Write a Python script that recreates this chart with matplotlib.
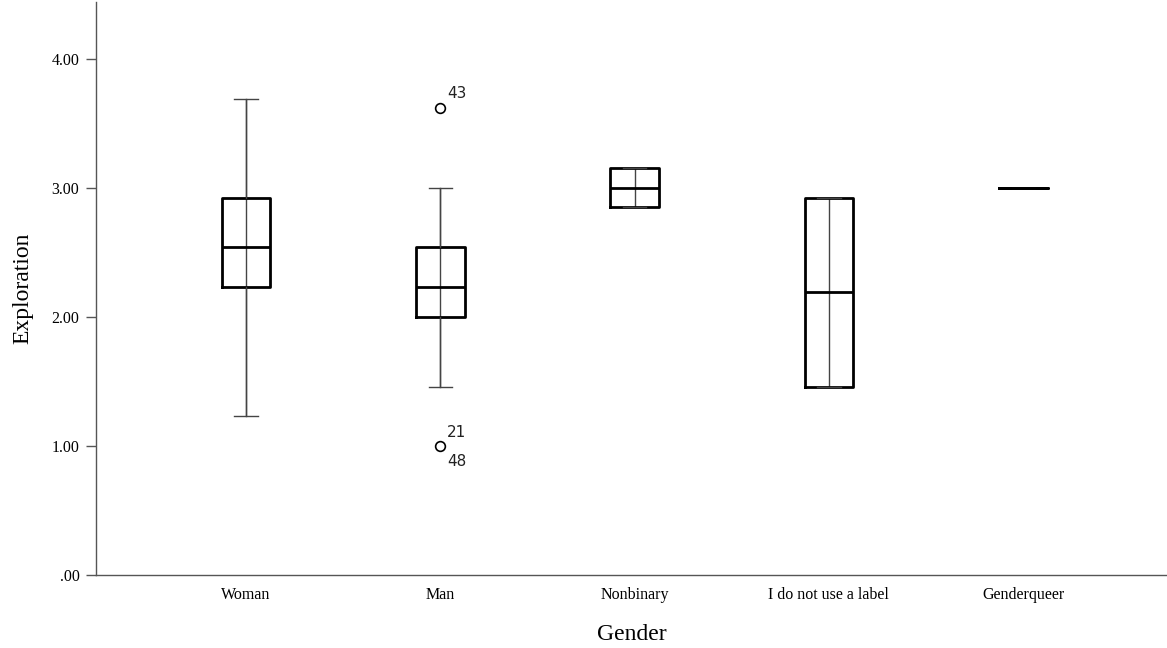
import numpy as np
import matplotlib.pyplot as plt

groups = ['Woman', 'Man', 'Nonbinary', 'I do not use a label', 'Genderqueer']
whislo = [1.23, 1.46, 2.85, 1.46, 3.00]
q1 = [2.23, 2.00, 2.85, 1.46, 3.00]
med = [2.54, 2.23, 3.00, 2.19, 3.00]
q3 = [2.92, 2.54, 3.15, 2.92, 3.00]
whishi = [3.69, 3.00, 3.15, 2.92, 3.00]

# outliers: (group index, value, case label)
out_group = [1, 1, 1]
out_value = [3.62, 1.00, 1.00]
out_case = ['43', '21', '48']

serif = 'Liberation Serif'

stats = []
for i in range(len(groups)):
    fl = [v for g, v in zip(out_group, out_value) if g == i]
    stats.append(dict(whislo=whislo[i], q1=q1[i], med=med[i], q3=q3[i],
                      whishi=whishi[i], fliers=np.unique(fl)))

fig = plt.figure(figsize=(11.67, 6.48), dpi=100)
ax = fig.add_axes([0.0823, 0.1127, 0.9177, 0.8843])

pos = np.arange(len(groups))
# thin stem through the whole box, SPSS style
ax.vlines(pos, whislo, whishi, color='#444444', lw=1.0, zorder=1)
ax.bxp(stats, positions=pos, widths=0.25, showfliers=True,
       boxprops=dict(color='black', lw=2.0),
       medianprops=dict(color='black', lw=2.0),
       whiskerprops=dict(color='#444444', lw=1.0),
       capprops=dict(color='#444444', lw=1.0),
       capwidths=0.12,
       flierprops=dict(marker='o', markersize=7, markerfacecolor='none',
                       markeredgecolor='black', markeredgewidth=1.2),
       zorder=2)

# case numbers next to outliers
seen = {}
for g, v, c in zip(out_group, out_value, out_case):
    k = seen.get((g, v), 0)
    seen[(g, v)] = k + 1
    dy = 10 if k == 0 else -11
    ax.annotate(c, (g, v), xytext=(5, dy), textcoords='offset points',
                fontsize=11, color='#222222', family='DejaVu Sans',
                va='center', ha='left')

ax.set_xlim(-0.772, 4.74)
ax.set_ylim(0, 4.44)
ax.set_yticks([0, 1, 2, 3, 4])
ax.set_yticklabels(['.00', '1.00', '2.00', '3.00', '4.00'])
ax.set_xticks(pos)
ax.set_xticklabels(groups)

for s in ['top', 'right']:
    ax.spines[s].set_visible(False)
for s in ['left', 'bottom']:
    ax.spines[s].set_color('#555555')
    ax.spines[s].set_linewidth(1.0)

ax.tick_params(axis='y', length=7, width=1.0, color='#555555', pad=5,
               labelsize=11.5)
ax.tick_params(axis='x', length=0, pad=9, labelsize=11.5)
for lab in ax.get_xticklabels() + ax.get_yticklabels():
    lab.set_family(serif)

ax.set_ylabel('Exploration', family=serif, fontsize=17, labelpad=13)
ax.set_xlabel('Gender', family=serif, fontsize=17, labelpad=15)

fig.savefig('out.png', dpi=100)
